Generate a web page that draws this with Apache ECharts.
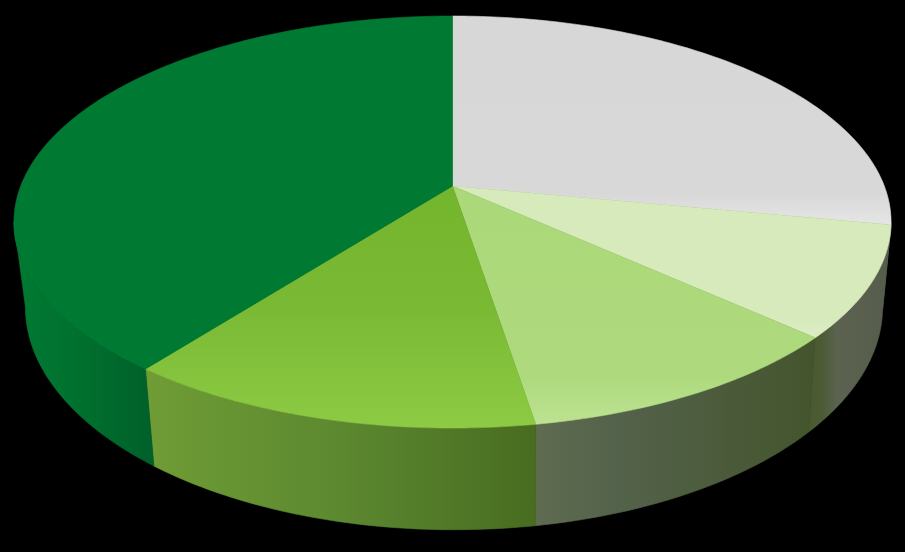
<!DOCTYPE html>
<html>
<head>
<meta charset="utf-8">
<style>html,body{margin:0;padding:0;background:#000}#c{width:905px;height:552px}</style>
<script src="https://cdn.jsdelivr.net/npm/echarts@6/dist/echarts.min.js"></script>
</head>
<body>
<div id="c"></div>
<script>
var categories = ['Slice A', 'Slice B', 'Slice C', 'Slice D', 'Slice E'];
var values = [28, 8.7, 10.75, 13.05, 39.5];

var topFills = [
  [[0, '#d7d7d7'], [0.85, '#d8d8d8'], [1, '#e6e6e6']],
  [[0, '#d6eabb'], [0.85, '#d6eabb'], [1, '#dcedc6']],
  [[0, '#abd879'], [0.8, '#aeda7d'], [1, '#bde292']],
  [[0, '#74b52e'], [0.5, '#7ab933'], [1, '#8dcb45']],
  [[0, '#007a33'], [1, '#007a33']]
];
var wallFills = [
  [[0, '#565c4c'], [1, '#565c4c']],
  [[0, '#4a5a30'], [0.12, '#4c5b34'], [0.3, '#5b6350'], [1, '#555b4b']],
  [[0, '#5f6c50'], [0.3, '#53624a'], [1, '#44552d']],
  [[0, '#6f9c35'], [0.5, '#5c8830'], [1, '#486c20']],
  [[0, '#007a33'], [0.5, '#006f2e'], [1, '#00602a']]
];
var wallRanges = [[860, 895], [812, 895], [534, 815], [150, 534], [14, 155]];

var topRim = { cx: 452.5, cy: 186, a: 199.7, b: 431.8, k: 0.1748 };
var bottomRim = { cx: 454, cy: 268, a: 216, b: 422, k: 0.1748 };

var total = values.reduce(function (s, v) { return s + v; }, 0);
var starts = [];
values.reduce(function (s, v, i) { starts[i] = s; return s + v; }, 0);

var frontStart = Math.acos(-topRim.k) / (2 * Math.PI) * total;
var frontEnd = total - frontStart;

function rimPoint(rim, share) {
  var t = share / total * 2 * Math.PI;
  var u = Math.sin(t), v = -Math.cos(t), w = 1 - rim.k * v;
  return [rim.cx + rim.b * u / w, rim.cy + rim.a * v / w];
}
function arcBetween(rim, from, to) {
  var pts = [], n = Math.max(8, Math.ceil((to - from) * 4));
  for (var j = 0; j <= n; j++) pts.push(rimPoint(rim, from + (to - from) * j / n));
  return pts;
}
function stopsOf(list) {
  return list.map(function (s) { return { offset: s[0], color: s[1] }; });
}
function renderWall(params, api) {
  var i = params.dataIndex;
  var from = Math.max(starts[i], frontStart), to = Math.min(starts[i] + values[i], frontEnd);
  if (to <= from) return null;
  var pts = arcBetween(topRim, from, to).concat(arcBetween(bottomRim, from, to).reverse());
  var x0 = api.coord([wallRanges[i][0], 0])[0], x1 = api.coord([wallRanges[i][1], 0])[0];
  var fill = { type: 'linear', x: x0, y: 0, x2: x1, y2: 0, global: true, colorStops: stopsOf(wallFills[i]) };
  return {
    type: 'polygon',
    shape: { points: pts.map(function (p) { return api.coord(p); }) },
    style: { fill: fill, stroke: fill, lineWidth: 0.6 }
  };
}
function renderTop(params, api) {
  var i = params.dataIndex;
  var pts = [[topRim.cx, topRim.cy]].concat(arcBetween(topRim, starts[i], starts[i] + values[i]));
  var fill = { type: 'linear', x: 0, y: 0, x2: 0, y2: 1, colorStops: stopsOf(topFills[i]) };
  return {
    type: 'polygon',
    shape: { points: pts.map(function (p) { return api.coord(p); }) },
    style: { fill: fill, stroke: fill, lineWidth: 0.6 }
  };
}
var seriesData = values.map(function (v, i) { return { name: categories[i], value: [i, v] }; });

echarts.init(document.getElementById('c'), null, { renderer: 'canvas' }).setOption({
  backgroundColor: '#000',
  animation: false,
  grid: { left: 0, right: 0, top: 0, bottom: 0 },
  xAxis: { type: 'value', min: 0, max: 905, show: false },
  yAxis: { type: 'value', min: 0, max: 552, inverse: true, show: false },
  series: [
    { type: 'custom', silent: true, clip: false, renderItem: renderWall, data: seriesData, z: 1 },
    { type: 'custom', silent: true, clip: false, renderItem: renderTop, data: seriesData, z: 2 }
  ]
});
</script>
</body>
</html>
